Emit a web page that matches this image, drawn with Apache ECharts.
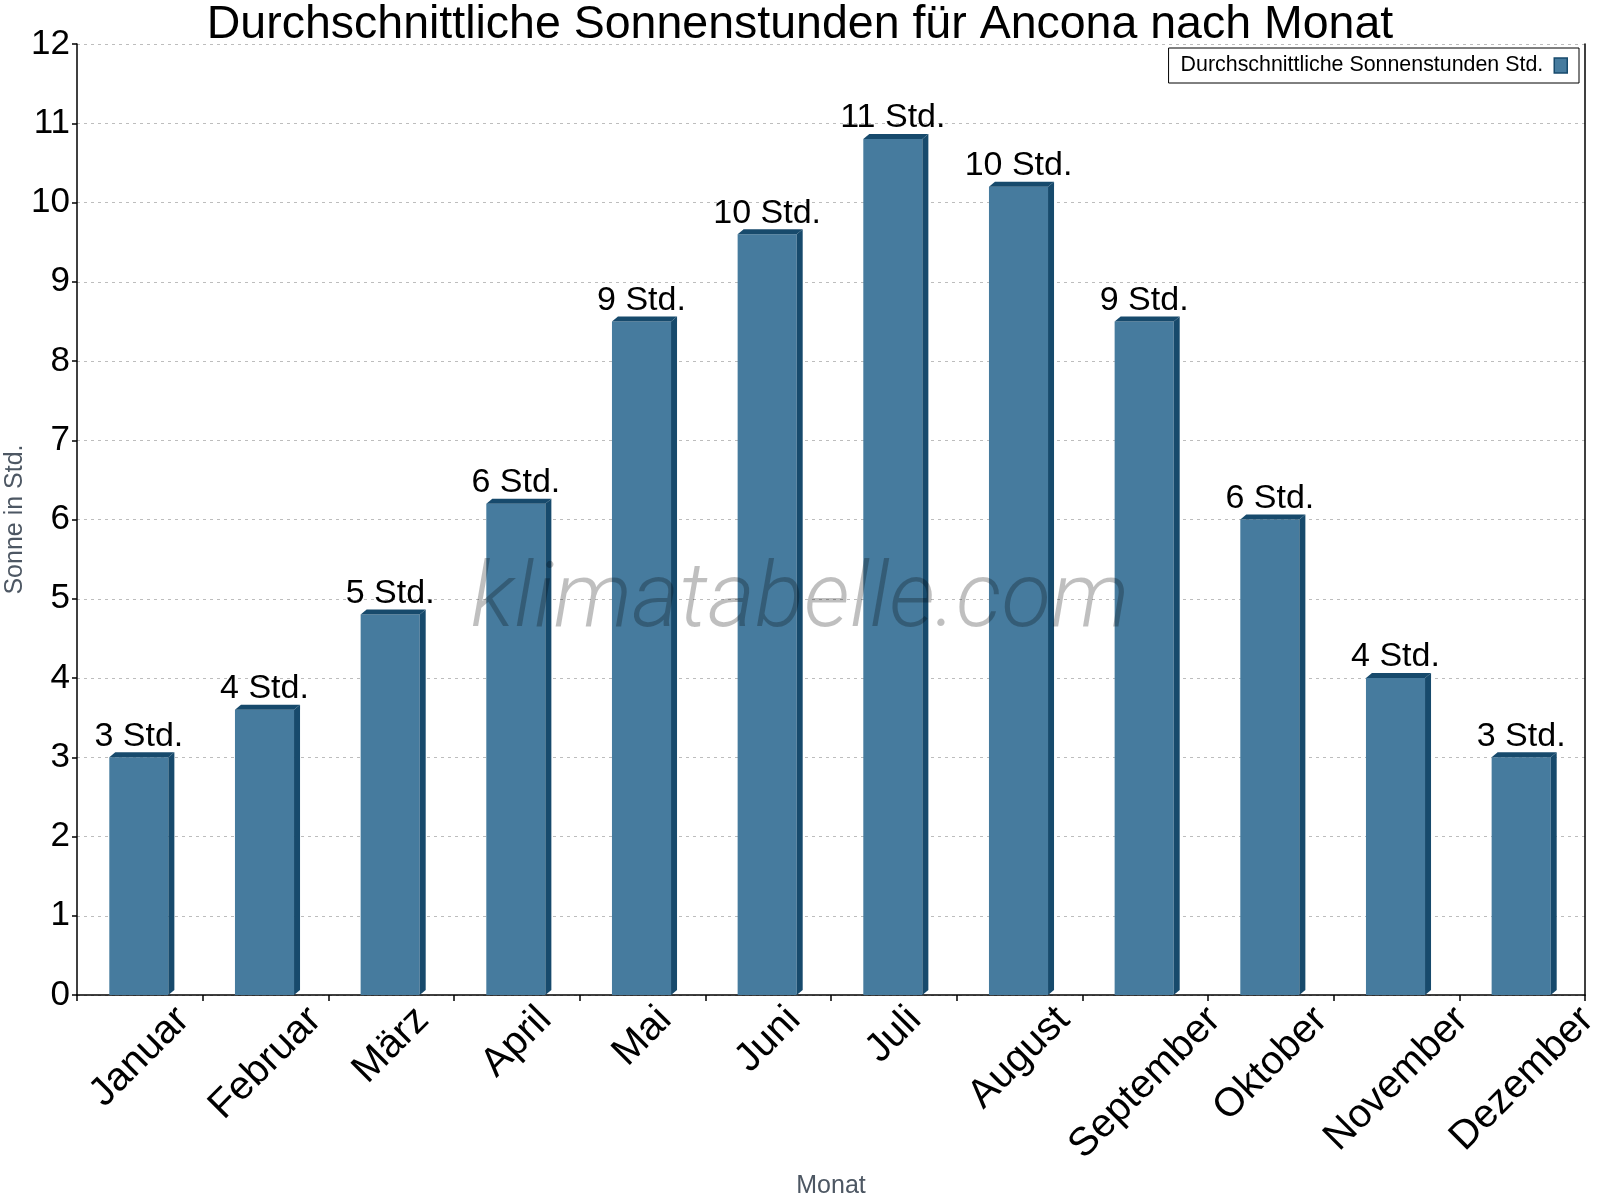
<!DOCTYPE html>
<html><head><meta charset="utf-8">
<script src="https://cdn.jsdelivr.net/npm/echarts@6/dist/echarts.min.js"></script>
<style>html,body{margin:0;padding:0;background:#fff}#c{width:1600px;height:1200px}</style>
</head><body><div id="c"></div>
<script>
const months = ['Januar','Februar','März','April','Mai','Juni','Juli','August','September','Oktober','November','Dezember'];
const sunHours = [3.0, 3.6, 4.8, 6.2, 8.5, 9.6, 10.8, 10.2, 8.5, 6.0, 4.0, 3.0];
const seriesName = 'Durchschnittliche Sonnenstunden Std.';
const titleText = 'Durchschnittliche Sonnenstunden für Ancona nach Monat';
const yName = 'Sonne in Std.';
const xName = 'Monat';
const unitSuffix = ' Std.';
const watermark = 'klimatabelle.com';

const FONT = '"Liberation Sans", Arial, sans-serif';
const FRONT = '#467b9e';
const DARK = '#174a6c';
const XFS = 40;

// measure label widths so rotated labels can hang from a common top line, centred on their category
const ctx = document.createElement('canvas').getContext('2d');
ctx.font = XFS + 'px "Liberation Sans", Arial, sans-serif';
const widths = months.map(m => ctx.measureText(m).width);
const wmin = Math.min.apply(null, widths);
const rich = {};
months.forEach((m, i) => {
  const p = 0.5 * (widths[i] - wmin);
  rich['t' + i] = { padding: [p, p, 0, 0], fontSize: XFS, fontFamily: FONT, color: '#000' };
});
const xData = months.map(m => ({ value: m, textStyle: { align: 'center', verticalAlign: 'middle' } }));

function renderItem(params, api) {
  const i = api.value(0), v = api.value(1);
  const top = api.coord([i, v]), base = api.coord([i, 0]);
  const bw = api.size([1, 0])[0] * 0.47;
  const x0 = top[0] - bw / 2 - 1, x1 = x0 + bw;
  const dx = 6, dy = 5;
  return { type: 'group', children: [
    { type: 'rect', shape: { x: x0, y: top[1], width: bw, height: base[1] - top[1] }, style: { fill: FRONT } },
    { type: 'polygon', shape: { points: [[x1, top[1]], [x1 + dx, top[1] - dy], [x1 + dx, base[1] - dy], [x1, base[1]]] }, style: { fill: DARK } },
    { type: 'polygon', shape: { points: [[x0, top[1]], [x0 + dx, top[1] - dy], [x1 + dx, top[1] - dy], [x1, top[1]]] }, style: { fill: DARK } },
    { type: 'text', style: { text: Math.round(v) + unitSuffix, x: (x0 + x1) / 2, y: top[1] - dy + 1, align: 'center', verticalAlign: 'bottom', fontSize: 34, fontFamily: FONT, fill: '#000' } }
  ] };
}

const chart = echarts.init(document.getElementById('c'), null, { renderer: 'canvas' });
chart.setOption({
  animation: false,
  backgroundColor: '#fff',
  title: { text: titleText, left: 'center', top: 2, padding: 0,
    textStyle: { fontSize: 46.5, fontWeight: 'normal', color: '#000', fontFamily: FONT } },
  legend: {
    data: [{ name: seriesName, icon: 'rect', itemStyle: { color: FRONT, borderColor: DARK, borderWidth: 1.5 } }],
    right: 21, top: 48, align: 'right', orient: 'horizontal',
    padding: [7, 11, 7, 12], itemWidth: 13, itemHeight: 15,
    borderColor: '#000', borderWidth: 1, backgroundColor: '#fff',
    textStyle: { fontSize: 21.4, color: '#000', fontFamily: FONT, padding: [0, 6, 0, 0] }
  },
  grid: { left: 77, right: 15, top: 44, bottom: 205, containLabel: false, outerBoundsMode: 'none' },
  xAxis: {
    type: 'category', data: xData, boundaryGap: true,
    name: xName, nameLocation: 'middle', nameGap: 179, nameMoveOverlap: false,
    nameTextStyle: { fontSize: 25, color: '#4d5763', fontFamily: FONT },
    axisLine: { show: true, lineStyle: { color: '#000', width: 1.5 } },
    axisTick: { show: true, interval: 0, length: 6, lineStyle: { color: '#000', width: 1.5 } },
    axisLabel: { interval: 0, rotate: 45, margin: 40, hideOverlap: false,
      fontSize: XFS, color: '#000', fontFamily: FONT,
      formatter: (val, idx) => '{t' + idx + '|' + val + '}', rich: rich },
    splitLine: { show: false }
  },
  yAxis: [{
    type: 'value', min: 0, max: 12, interval: 1,
    name: yName, nameLocation: 'middle', nameGap: 49, nameMoveOverlap: false,
    nameTextStyle: { fontSize: 25, color: '#4d5763', fontFamily: FONT },
    axisLine: { show: true, lineStyle: { color: '#000', width: 1.5 } },
    axisTick: { show: true, length: 5, lineStyle: { color: '#000', width: 1.5 } },
    axisLabel: { fontSize: 35, color: '#000', margin: 7, fontFamily: FONT },
    splitLine: { show: true, lineStyle: { color: '#bdbdbd', type: [3, 4], width: 1 } }
  }, {
    type: 'value', min: 0, max: 12, interval: 1, position: 'right',
    axisLine: { show: true, lineStyle: { color: '#000', width: 1.5 } },
    axisTick: { show: false }, axisLabel: { show: false }, splitLine: { show: false }
  }],
  graphic: [{
    type: 'text', left: 'center', top: 558, z: 100, silent: true,
    style: { text: watermark, fontSize: 91, fontFamily: 'Roboto', fontWeight: 300, fontStyle: 'italic',
      fill: 'rgba(0,0,0,0.25)' }
  }],
  series: [{
    name: seriesName, type: 'custom', renderItem: renderItem,
    itemStyle: { color: FRONT, borderColor: DARK, borderWidth: 1.5 },
    encode: { x: 0, y: 1 },
    data: sunHours.map((v, i) => [i, v])
  }]
});
</script>
</body></html>
